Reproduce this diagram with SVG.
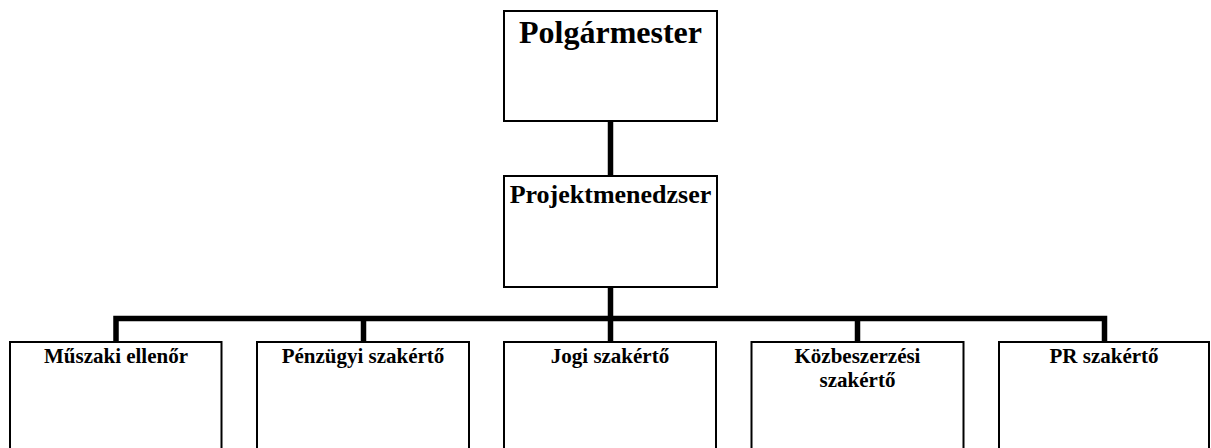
<svg xmlns="http://www.w3.org/2000/svg" width="1211" height="448" viewBox="0 0 1211 448">
<style>
.box{fill:#fff;stroke:#000;stroke-width:2}
.conn{fill:none;stroke:#000;stroke-width:5.5;stroke-linecap:butt;stroke-linejoin:miter}
text{font-family:"Liberation Serif","Times New Roman",serif;font-weight:bold;fill:#000;text-anchor:middle}
.t1{font-size:32px}
.t2{font-size:26px}
.t3{font-size:21px}
</style>
<rect width="1211" height="448" fill="#fff"/>
<g id="connectors">
<line class="conn" x1="610.5" y1="121" x2="610.5" y2="176"/>
<line class="conn" x1="610.5" y1="287" x2="610.5" y2="318.5"/>
<polyline class="conn" points="116,342 116,318.5 1104.5,318.5 1104.5,342"/>
<line class="conn" x1="363.5" y1="318.5" x2="363.5" y2="342"/>
<line class="conn" x1="610.5" y1="318.5" x2="610.5" y2="342"/>
<line class="conn" x1="857.5" y1="318.5" x2="857.5" y2="342"/>
</g>
<g id="polgarmester">
<rect class="box" x="504" y="11" width="213" height="110"/>
<text class="t1" x="610.5" y="43">Polgármester</text>
</g>
<g id="projektmenedzser">
<rect class="box" x="504" y="176" width="213" height="111"/>
<text class="t2" x="610.5" y="203">Projektmenedzser</text>
</g>
<g id="muszaki">
<rect class="box" x="10" y="342" width="211.5" height="120"/>
<text class="t3" x="116" y="363">Műszaki ellenőr</text>
</g>
<g id="penzugyi">
<rect class="box" x="257" y="342" width="212" height="120"/>
<text class="t3" x="363" y="363">Pénzügyi szakértő</text>
</g>
<g id="jogi">
<rect class="box" x="504" y="342" width="212" height="120"/>
<text class="t3" x="610" y="363">Jogi szakértő</text>
</g>
<g id="kozbeszerzesi">
<rect class="box" x="751.5" y="342" width="212" height="120"/>
<text class="t3" x="857.5" y="363">Közbeszerzési</text>
<text class="t3" x="857.5" y="387">szakértő</text>
</g>
<g id="pr">
<rect class="box" x="999" y="342" width="210" height="120"/>
<text class="t3" x="1104" y="363">PR szakértő</text>
</g>
</svg>
